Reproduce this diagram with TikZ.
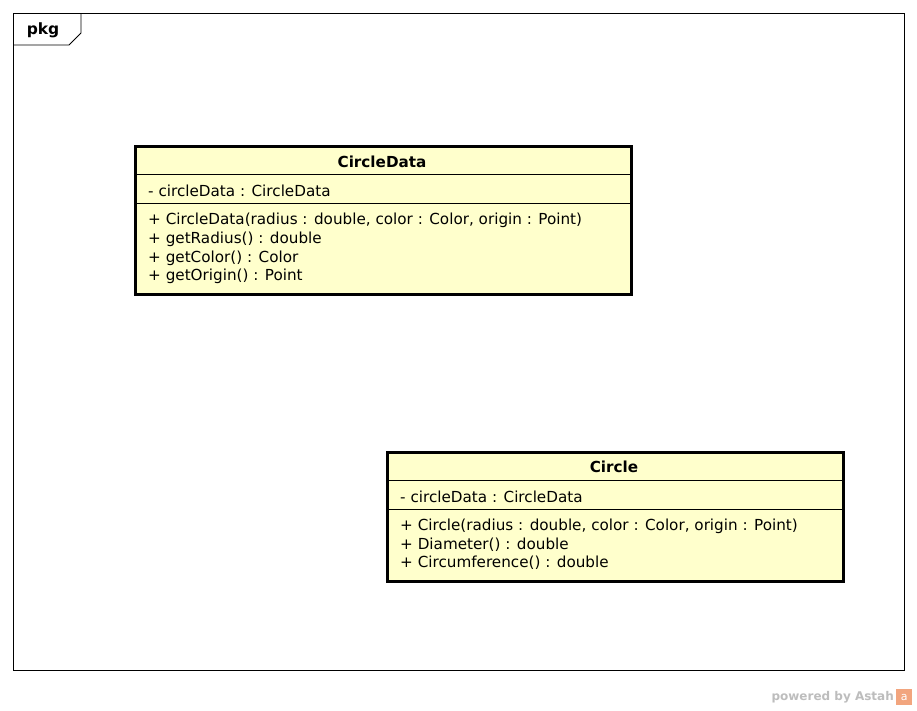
\documentclass[tikz,border=0pt]{standalone}
\usepackage{fontspec}
\setmainfont{DejaVu Sans}
\usepackage{xcolor}
\usetikzlibrary{positioning}
\definecolor{classfill}{HTML}{FFFFCC}
\definecolor{markgrey}{HTML}{BDBDBD}
\definecolor{markorange}{HTML}{F2A57E}

\begin{document}
\begin{tikzpicture}[
    x=1pt, y=-1pt,
    frame/.style={draw, line width=0.9pt},
    classbox/.style={draw, fill=classfill, line width=2.8pt, anchor=north west, inner sep=0pt},
    sep/.style={line width=0.7pt},
    member/.style={anchor=west, inner sep=0pt, align=left, font=\fontsize{15.2}{18.7}\selectfont},
    classname/.style={inner sep=0pt, font=\fontsize{15.2}{17}\selectfont\bfseries}
]
\useasboundingbox[fill=white] (0,0) rectangle (917,710);

% package frame
\draw[frame] (13,13) rectangle (904,670);
\draw[frame] (13,45) -- (69,45) -- (81,33) -- (81,13);
\node[classname, font=\fontsize{15.5}{17}\selectfont\bfseries] (pkg) at (43,30) {pkg};

% CircleData
\node[classbox, minimum width=496pt, minimum height=148pt] (cdbox) at (134,145) {};
\draw[sep] ([yshift=-29pt]cdbox.north west) -- ([yshift=-29pt]cdbox.north east);
\draw[sep] ([yshift=-58pt]cdbox.north west) -- ([yshift=-58pt]cdbox.north east);
\node[classname] (cdname) at (382,162) {CircleData};
\node[member] (cdattr) at (148,190.5) {- circleData : CircleData};
\node[member] (cdops) at (148,248.5) {+ CircleData(radius : double, color : Color, origin : Point)\\
    + getRadius() : double\\
    + getColor() : Color\\
    + getOrigin() : Point};

% Circle
\node[classbox, minimum width=456pt, minimum height=129pt] (cbox) at (386,451) {};
\draw[sep] ([yshift=-29pt]cbox.north west) -- ([yshift=-29pt]cbox.north east);
\draw[sep] ([yshift=-58pt]cbox.north west) -- ([yshift=-58pt]cbox.north east);
\node[classname] (cname) at (614,467) {Circle};
\node[member] (cattr) at (400,496.5) {- circleData : CircleData};
\node[member] (cops) at (400,544.5) {+ Circle(radius : double, color : Color, origin : Point)\\
    + Diameter() : double\\
    + Circumference() : double};

% watermark
\node[anchor=east, inner sep=0pt, text=markgrey, font=\fontsize{12}{14}\selectfont\bfseries] (mark) at (894,697) {powered by Astah};
\node[fill=markorange, minimum size=16pt, inner sep=0pt, text=white, font=\fontsize{11}{11}\selectfont, right=2pt of mark] (logo) {a};

\end{tikzpicture}
\end{document}
